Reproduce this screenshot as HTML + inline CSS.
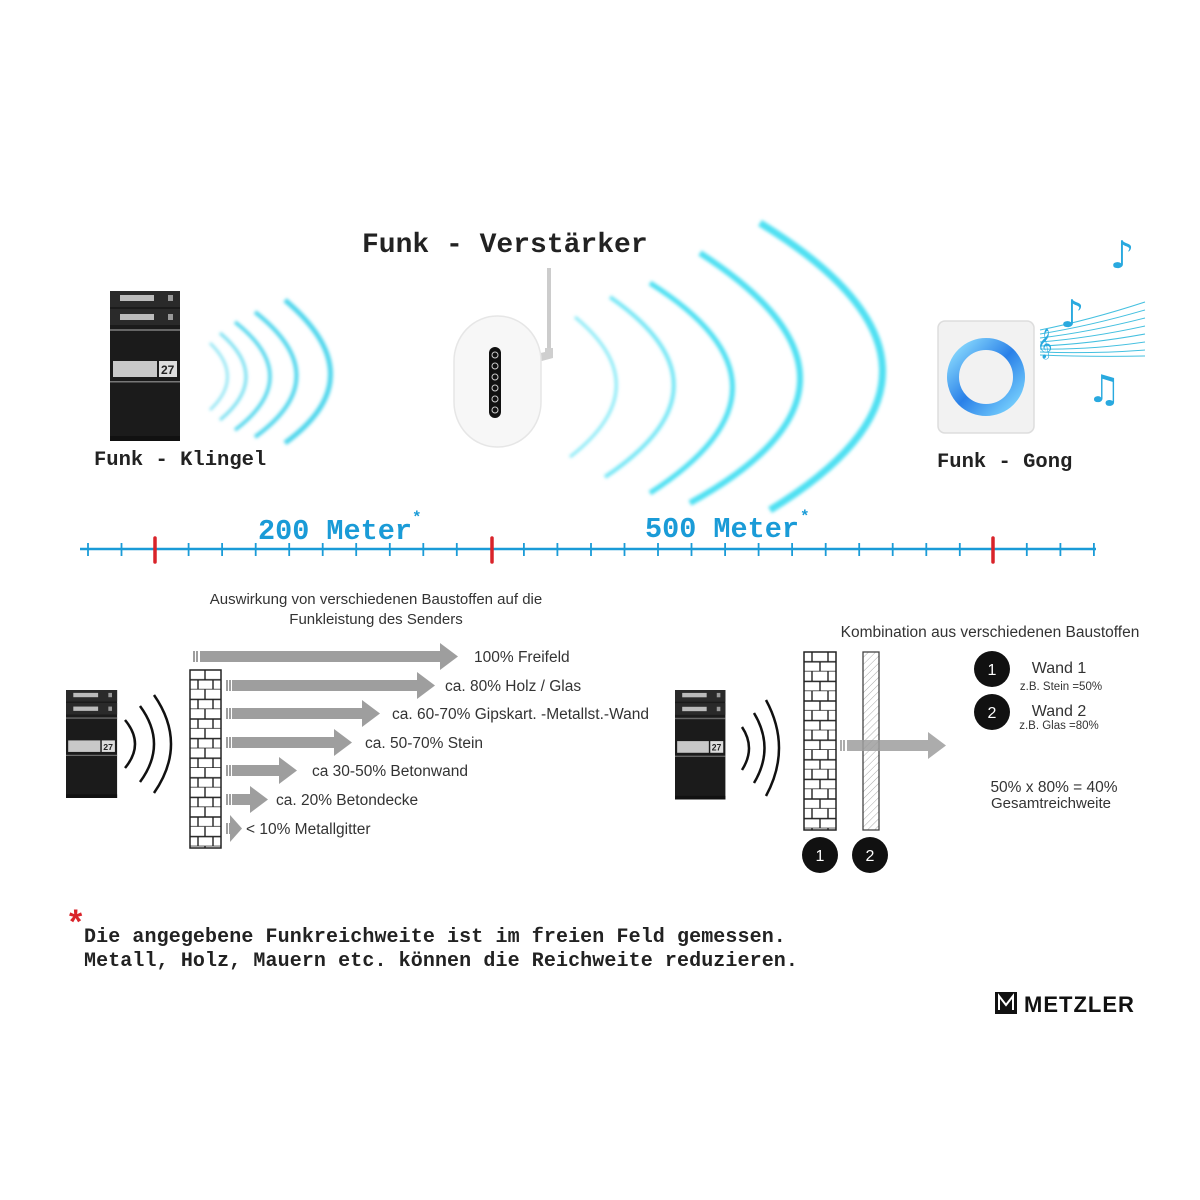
<!DOCTYPE html>
<html><head><meta charset="utf-8"><style>
html,body{margin:0;padding:0;background:#fff}
svg{display:block}
.mono{font-family:"Liberation Mono",monospace;font-weight:bold}
.sans{font-family:"Liberation Sans",sans-serif;fill:#333}
</style></head><body>
<svg width="1200" height="1200" viewBox="0 0 1200 1200" xmlns="http://www.w3.org/2000/svg">
<defs>
<filter id="glow" x="-50%" y="-50%" width="200%" height="200%"><feGaussianBlur stdDeviation="1.6"/></filter>
<pattern id="brick" width="31" height="19.6" patternUnits="userSpaceOnUse" x="190" y="670">
<rect width="31" height="19.6" fill="#fff"/>
<path d="M0 9.8H31M0 19.6H31M15 0V9.8M8 9.8V19.6M23 9.8V19.6" stroke="#222" stroke-width="1.4" fill="none"/>
</pattern>
<pattern id="brick2" width="32" height="19.6" patternUnits="userSpaceOnUse" x="804" y="652">
<rect width="32" height="19.6" fill="#fff"/>
<path d="M0 9.8H32M0 19.6H32M8 0V9.8M24 0V9.8M16 9.8V19.6" stroke="#222" stroke-width="1.4" fill="none"/>
</pattern>
<pattern id="hatch" width="5" height="5" patternUnits="userSpaceOnUse" patternTransform="rotate(45)">
<rect width="5" height="5" fill="#fff"/><line x1="0" y1="0" x2="0" y2="5" stroke="#aaa" stroke-width="1"/>
</pattern>
<linearGradient id="ring" x1="0" y1="0" x2="1" y2="1"><stop offset="0" stop-color="#8fe0ff"/><stop offset=".5" stop-color="#2a80e8"/><stop offset="1" stop-color="#7fd8ff"/></linearGradient>
<g id="mailbox">
<rect x="0" y="0" width="70" height="150" fill="#1b1b1b"/>
<rect x="0" y="0" width="70" height="16" fill="#2a2a2a"/>
<rect x="10" y="4" width="34" height="6" fill="#bbb"/><rect x="58" y="4" width="5" height="6" fill="#999"/>
<rect x="0" y="18" width="70" height="16" fill="#2a2a2a"/>
<rect x="10" y="23" width="34" height="6" fill="#bbb"/><rect x="58" y="23" width="5" height="6" fill="#999"/>
<rect x="0" y="38" width="70" height="2" fill="#666"/>
<rect x="3" y="70" width="44" height="16" fill="#c8c8c8"/><rect x="49" y="70" width="18" height="16" fill="#ddd"/>
<text x="51" y="83" font-family="Liberation Sans" font-size="12" font-weight="bold" fill="#222">27</text>
<rect x="0" y="90" width="70" height="1.5" fill="#777"/>
<rect x="0" y="145" width="70" height="5" fill="#111"/>
</g>
</defs>

<text x="362" y="252" class="mono" font-size="28" fill="#222">Funk - Verstärker</text>
<text x="94" y="465" class="mono" font-size="20.5" fill="#222">Funk - Klingel</text>
<text x="937" y="467" class="mono" font-size="20.5" fill="#222">Funk - Gong</text>

<use href="#mailbox" transform="translate(110,291)"/>

<g fill="none" stroke="#4fd6ec" filter="url(#glow)">
<path d="M210 343 Q245 377 210 410" stroke-width="2.5" opacity=".7"/>
<path d="M220 333 Q272 377 220 420" stroke-width="3" opacity=".8"/>
<path d="M235 322 Q305 377 235 430" stroke-width="3.5"/>
<path d="M255 312 Q338 377 255 437" stroke-width="4"/>
<path d="M285 300 Q376 377 285 443" stroke-width="5"/>
</g>

<line x1="549" y1="268" x2="549" y2="350" stroke="#ccc" stroke-width="4"/>
<path d="M545 348 L553 348 L553 358 L538 362 L536 354 L545 352Z" fill="#cfcfcf"/>
<rect x="454" y="316" width="87" height="131" rx="43" ry="45" fill="#f7f7f7" stroke="#e6e6e6" stroke-width="1.5"/>
<rect x="489" y="347" width="12" height="71" rx="6" fill="#111"/>
<g fill="none" stroke="#ccc" stroke-width="1"><circle cx="495" cy="355" r="3"/><circle cx="495" cy="366" r="3"/><circle cx="495" cy="377" r="3"/><circle cx="495" cy="388" r="3"/><circle cx="495" cy="399" r="3"/><circle cx="495" cy="410" r="3"/></g>

<g fill="none" stroke="#4fe0f2" filter="url(#glow)">
<path d="M575 317 Q660 387 570 457" stroke-width="3" opacity=".7"/>
<path d="M610 297 Q740 387 605 477" stroke-width="4" opacity=".8"/>
<path d="M650 283 Q815 387 650 493" stroke-width="5"/>
<path d="M700 253 Q905 385 690 503" stroke-width="6"/>
<path d="M760 223 Q1000 370 770 510" stroke-width="7"/>
</g>

<rect x="938" y="321" width="96" height="112" rx="7" fill="#f2f2f2" stroke="#ddd" stroke-width="1.5"/>
<circle cx="986" cy="377" r="33" fill="none" stroke="url(#ring)" stroke-width="12"/>
<g fill="none" stroke="#45c0e0" stroke-width="1">
<path d="M1040 330 Q1090 320 1145 302"/><path d="M1040 334 Q1090 326 1145 310"/><path d="M1040 338 Q1090 332 1145 318"/><path d="M1040 342 Q1090 338 1145 326"/><path d="M1040 346 Q1090 344 1145 334"/><path d="M1040 349 Q1090 350 1145 342"/><path d="M1040 352 Q1090 354 1145 350"/><path d="M1040 355 Q1090 357 1145 356"/>
</g>
<text x="1037" y="352" font-family="DejaVu Sans" font-size="26" fill="#29a9df">𝄞</text>
<text x="1060" y="327" font-family="DejaVu Sans" font-size="38" fill="#29a9df">♪</text>
<text x="1110" y="268" font-family="DejaVu Sans" font-size="38" fill="#29a9df">♪</text>
<text x="1087" y="402" font-family="DejaVu Sans" font-size="38" fill="#29a9df">♫</text>

<text x="258" y="539" class="mono" font-size="28.5" fill="#1a9bd7">200 Meter</text>
<text x="412" y="522" class="mono" font-size="16" fill="#1a9bd7">*</text>
<text x="645" y="537" class="mono" font-size="28.5" fill="#1a9bd7">500 Meter</text>
<text x="800" y="521" class="mono" font-size="16" fill="#1a9bd7">*</text>
<line x1="80" y1="549" x2="1096" y2="549" stroke="#1a9bd7" stroke-width="2.5"/>
<g stroke="#1a9bd7" stroke-width="1.8">
<line x1="88" y1="543" x2="88" y2="556"/><line x1="121.5" y1="543" x2="121.5" y2="556"/><line x1="188.6" y1="543" x2="188.6" y2="556"/><line x1="222.1" y1="543" x2="222.1" y2="556"/><line x1="255.7" y1="543" x2="255.7" y2="556"/><line x1="289.2" y1="543" x2="289.2" y2="556"/><line x1="322.7" y1="543" x2="322.7" y2="556"/><line x1="356.2" y1="543" x2="356.2" y2="556"/><line x1="389.8" y1="543" x2="389.8" y2="556"/><line x1="423.3" y1="543" x2="423.3" y2="556"/><line x1="456.8" y1="543" x2="456.8" y2="556"/><line x1="523.9" y1="543" x2="523.9" y2="556"/><line x1="557.4" y1="543" x2="557.4" y2="556"/><line x1="591" y1="543" x2="591" y2="556"/><line x1="624.5" y1="543" x2="624.5" y2="556"/><line x1="658" y1="543" x2="658" y2="556"/><line x1="691.5" y1="543" x2="691.5" y2="556"/><line x1="725.1" y1="543" x2="725.1" y2="556"/><line x1="758.6" y1="543" x2="758.6" y2="556"/><line x1="792.1" y1="543" x2="792.1" y2="556"/><line x1="825.7" y1="543" x2="825.7" y2="556"/><line x1="859.2" y1="543" x2="859.2" y2="556"/><line x1="892.7" y1="543" x2="892.7" y2="556"/><line x1="926.3" y1="543" x2="926.3" y2="556"/><line x1="959.8" y1="543" x2="959.8" y2="556"/><line x1="1026.8" y1="543" x2="1026.8" y2="556"/><line x1="1060.4" y1="543" x2="1060.4" y2="556"/><line x1="1093.9" y1="543" x2="1093.9" y2="556"/>
</g>
<g stroke="#d9232a" stroke-width="3.5" stroke-linecap="round">
<line x1="155" y1="538" x2="155" y2="562"/><line x1="492" y1="538" x2="492" y2="562"/><line x1="993" y1="538" x2="993" y2="562"/>
</g>

<text x="376" y="604" class="sans" font-size="15" text-anchor="middle">Auswirkung von verschiedenen Baustoffen auf die</text>
<text x="376" y="624" class="sans" font-size="15" text-anchor="middle">Funkleistung des Senders</text>
<use href="#mailbox" transform="translate(66,690) scale(0.73,0.72)"/>
<g fill="none" stroke="#111" stroke-width="2.5">
<path d="M125 720 Q145 744 125 768"/><path d="M140 706 Q168 744 140 782"/><path d="M154 695 Q188 744 154 793"/>
</g>
<rect x="190" y="670" width="31" height="178" fill="url(#brick)" stroke="#222" stroke-width="1.5"/>
<g fill="#9e9e9e">
<rect x="193" y="651" width="2" height="11"/><rect x="196" y="651" width="2" height="11"/>
<path d="M200 651H440V643L458 656.5L440 670V662H200Z"/>
<rect x="226" y="680" width="2" height="11"/><rect x="229" y="680" width="2" height="11"/>
<path d="M232 680H417V672L435 685.5L417 699V691H232Z"/>
<rect x="226" y="708" width="2" height="11"/><rect x="229" y="708" width="2" height="11"/>
<path d="M232 708H362V700L380 713.5L362 727V719H232Z"/>
<rect x="226" y="737" width="2" height="11"/><rect x="229" y="737" width="2" height="11"/>
<path d="M232 737H334V729L352 742.5L334 756V748H232Z"/>
<rect x="226" y="765" width="2" height="11"/><rect x="229" y="765" width="2" height="11"/>
<path d="M232 765H279V757L297 770.5L279 784V776H232Z"/>
<rect x="226" y="794" width="2" height="11"/><rect x="229" y="794" width="2" height="11"/>
<path d="M232 794H250V786L268 799.5L250 813V805H232Z"/>
<rect x="226" y="823" width="2" height="11"/><rect x="229" y="823" width="2" height="11"/>
<path d="M230 815L242 828.5L230 842Z"/>
</g>
<g class="sans" font-size="15.5">
<text x="474" y="662">100% Freifeld</text>
<text x="445" y="691">ca. 80% Holz / Glas</text>
<text x="392" y="719">ca. 60-70% Gipskart. -Metallst.-Wand</text>
<text x="365" y="748">ca. 50-70% Stein</text>
<text x="312" y="776">ca 30-50% Betonwand</text>
<text x="276" y="805">ca. 20% Betondecke</text>
<text x="246" y="834">&lt; 10% Metallgitter</text>
</g>

<text x="990" y="637" class="sans" font-size="15.5" text-anchor="middle">Kombination aus verschiedenen Baustoffen</text>
<use href="#mailbox" transform="translate(675,690) scale(0.72,0.73)"/>
<g fill="none" stroke="#111" stroke-width="2.5">
<path d="M742 727 Q756 748 742 770"/><path d="M754 713 Q775 748 754 783"/><path d="M766 700 Q792 748 766 796"/>
</g>
<rect x="804" y="652" width="32" height="178" fill="url(#brick2)" stroke="#222" stroke-width="1.5"/>
<rect x="863" y="652" width="16" height="178" fill="url(#hatch)" stroke="#444" stroke-width="1.3"/>
<g fill="#9e9e9e" fill-opacity=".85">
<rect x="840" y="740" width="2" height="11"/><rect x="843" y="740" width="2" height="11"/>
<path d="M847 740H928V732L946 745.5L928 759V751H847Z"/>
</g>
<circle cx="820" cy="855" r="18" fill="#111"/><text x="820" y="861" font-family="Liberation Sans" font-size="16" fill="#fff" text-anchor="middle">1</text>
<circle cx="870" cy="855" r="18" fill="#111"/><text x="870" y="861" font-family="Liberation Sans" font-size="16" fill="#fff" text-anchor="middle">2</text>
<circle cx="992" cy="669" r="18" fill="#111"/><text x="992" y="675" font-family="Liberation Sans" font-size="16" fill="#fff" text-anchor="middle">1</text>
<circle cx="992" cy="712" r="18" fill="#111"/><text x="992" y="718" font-family="Liberation Sans" font-size="16" fill="#fff" text-anchor="middle">2</text>
<g class="sans">
<text x="1059" y="673" font-size="16" text-anchor="middle">Wand 1</text>
<text x="1061" y="690" font-size="11.5" text-anchor="middle">z.B. Stein =50%</text>
<text x="1059" y="716" font-size="16" text-anchor="middle">Wand 2</text>
<text x="1059" y="729" font-size="11.5" text-anchor="middle">z.B. Glas =80%</text>
<text x="1054" y="792" font-size="15.5" text-anchor="middle">50% x 80% = 40%</text>
<text x="1051" y="808" font-size="15" text-anchor="middle">Gesamtreichweite</text>
</g>

<text x="69" y="933" font-family="Liberation Sans" font-size="34" font-weight="bold" fill="#d9232a">*</text>
<text x="84" y="942" class="mono" font-size="20" fill="#222" letter-spacing="0.1">Die angegebene Funkreichweite ist im freien Feld gemessen.</text>
<text x="84" y="966" class="mono" font-size="20" fill="#222" letter-spacing="0.1">Metall, Holz, Mauern etc. können die Reichweite reduzieren.</text>

<rect x="995" y="992" width="22" height="22" fill="#111"/>
<path d="M999 1010V996L1006 1005L1013 996V1010" fill="none" stroke="#fff" stroke-width="2"/>
<text x="1024" y="1012" font-family="Liberation Sans" font-size="22" font-weight="bold" fill="#111" letter-spacing="1">METZLER</text>
</svg>
</body></html>
